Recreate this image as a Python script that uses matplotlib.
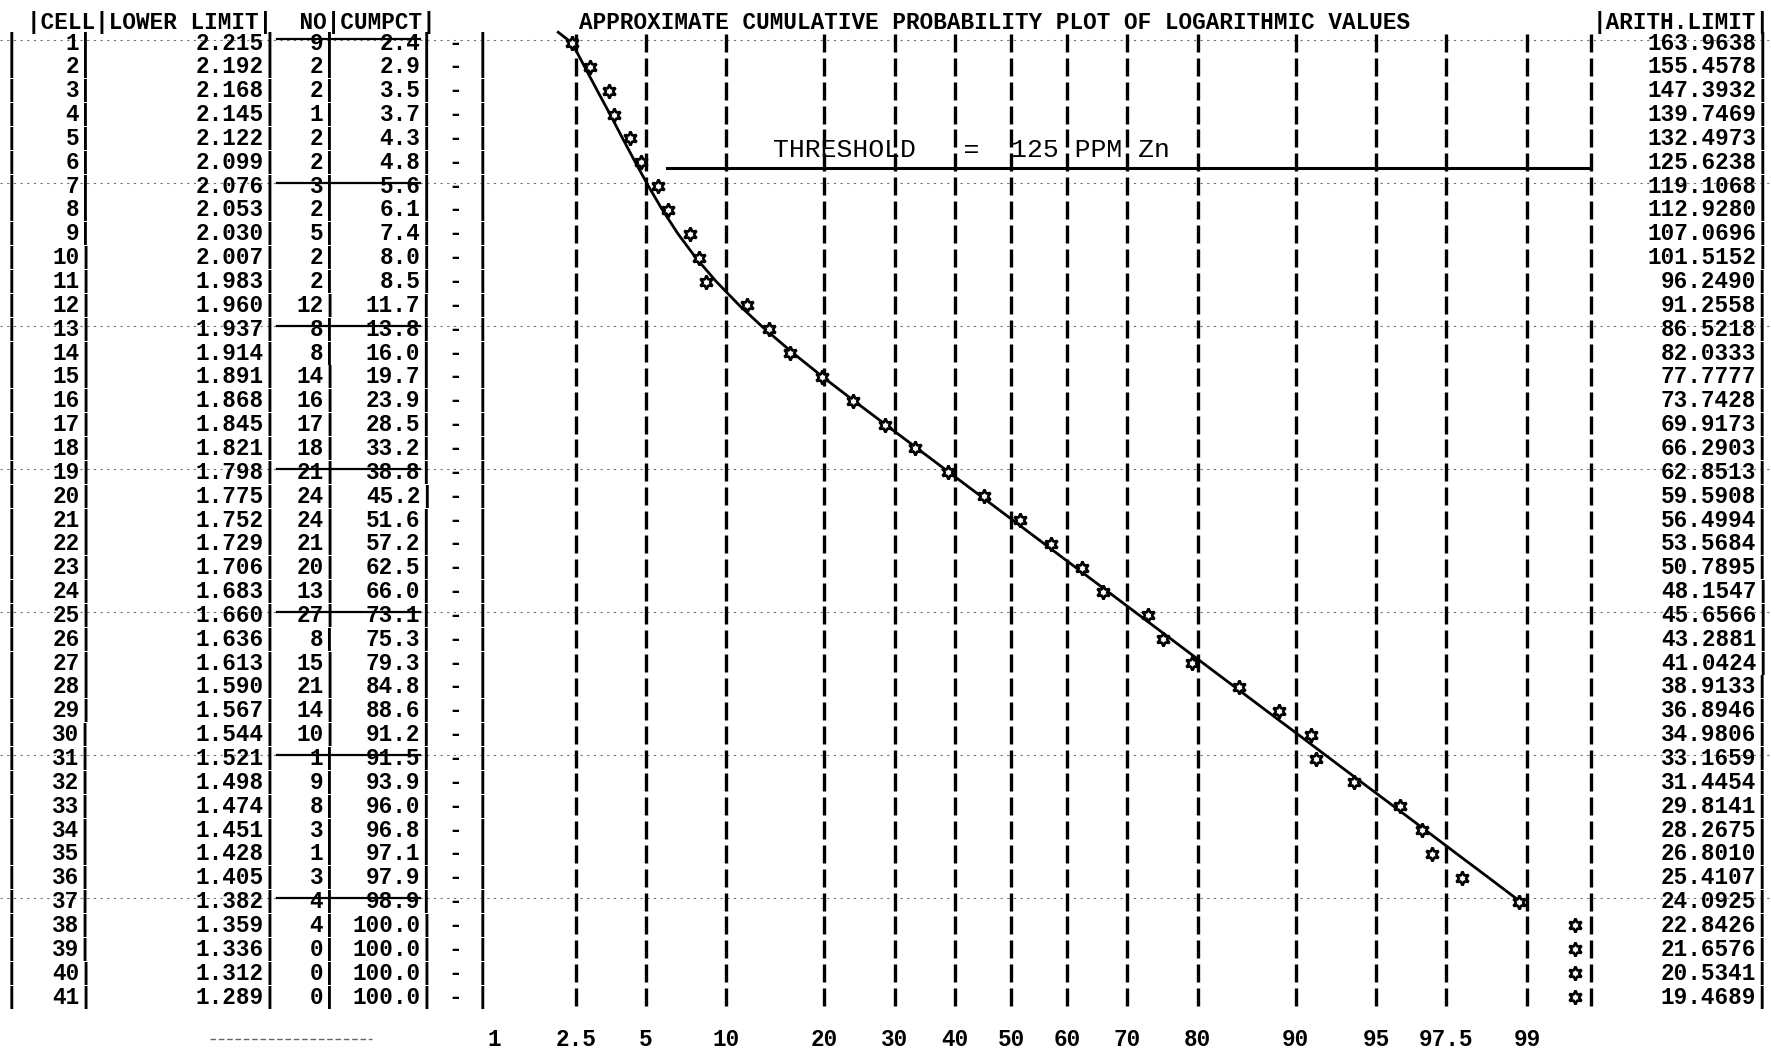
#!/usr/bin/env python3
# approximate cumulative probability plot (line-printer style), log values of Zn
from statistics import NormalDist

import numpy as np
import matplotlib.pyplot as plt
from matplotlib import transforms

W, H = 1771, 1054

# ---- table data ----
cells = list(range(1, 42))
lower_limit = [2.215, 2.192, 2.168, 2.145, 2.122, 2.099, 2.076, 2.053, 2.030, 2.007,
               1.983, 1.960, 1.937, 1.914, 1.891, 1.868, 1.845, 1.821, 1.798, 1.775,
               1.752, 1.729, 1.706, 1.683, 1.660, 1.636, 1.613, 1.590, 1.567, 1.544,
               1.521, 1.498, 1.474, 1.451, 1.428, 1.405, 1.382, 1.359, 1.336, 1.312, 1.289]
counts = [9, 2, 2, 1, 2, 2, 3, 2, 5, 2, 2, 12, 8, 8, 14, 16, 17, 18, 21, 24,
          24, 21, 20, 13, 27, 8, 15, 21, 14, 10, 1, 9, 8, 3, 1, 3, 4, 4, 0, 0, 0]
cumpct = [2.4, 2.9, 3.5, 3.7, 4.3, 4.8, 5.6, 6.1, 7.4, 8.0, 8.5, 11.7, 13.8, 16.0,
          19.7, 23.9, 28.5, 33.2, 38.8, 45.2, 51.6, 57.2, 62.5, 66.0, 73.1, 75.3,
          79.3, 84.8, 88.6, 91.2, 91.5, 93.9, 96.0, 96.8, 97.1, 97.9, 98.9,
          100.0, 100.0, 100.0, 100.0]
arith_limit = [163.9638, 155.4578, 147.3932, 139.7469, 132.4973, 125.6238, 119.1068,
               112.9280, 107.0696, 101.5152, 96.2490, 91.2558, 86.5218, 82.0333,
               77.7777, 73.7428, 69.9173, 66.2903, 62.8513, 59.5908, 56.4994,
               53.5684, 50.7895, 48.1547, 45.6566, 43.2881, 41.0424, 38.9133,
               36.8946, 34.9806, 33.1659, 31.4454, 29.8141, 28.2675, 26.8010,
               25.4107, 24.0925, 22.8426, 21.6576, 20.5341, 19.4689]

# probability axis
prob_ticks = [1, 2.5, 5, 10, 20, 30, 40, 50, 60, 70, 80, 90, 95, 97.5, 99]
prob_labels = ["1", "2.5", "5", "10", "20", "30", "40", "50", "60", "70",
               "80", "90", "95", "97.5", "99"]
grid_pct = [2.5, 5, 10, 20, 30, 40, 50, 60, 70, 80, 90, 95, 97.5, 99, 99.55]
LAST_COL_PCT = 99.45   # printer puts 100 % in the last column

# hand drawn curve, pct vs row
curve_row = [0.55] + list(range(1, 38))
curve_pct = [2.07, 2.40, 2.74, 3.12, 3.55, 4.01, 4.53, 5.12, 5.82, 6.68, 7.78, 9.21,
             11.05, 13.39, 16.31, 19.82, 23.95, 28.60, 33.65, 39.01, 44.59, 50.28,
             55.96, 61.52, 66.86, 71.87, 76.49, 80.65, 84.33, 87.51, 90.22, 92.46,
             94.29, 95.76, 96.90, 97.77, 98.43, 98.91]

# threshold annotation
THRESH_ROW = 6.25
THRESH_FROM_PCT = 6.07
THRESH_TEXT = "THRESHOLD   =  125 PPM Zn"
rule_rows = [1, 7, 13, 19, 25, 31, 37]

nd = NormalDist()
def probit(p):
    return np.array([nd.inv_cdf(v / 100.0) for v in np.atleast_1d(p)])

# page geometry: px = X50 + SLOPE*z ; py = Y1 + (row-1)*ROWH
X50, SLOPE = 1011, 222
Y1, ROWH = 43, 23.85

fig = plt.figure(figsize=(W / 100, H / 100), dpi=100)
ax = fig.add_axes([0, 0, 1, 1])
ax.set_xlim((0 - X50) / SLOPE, (W - X50) / SLOPE)
ax.set_ylim(1 + (H - Y1) / ROWH, 1 - Y1 / ROWH)
ax.axis("off")
tr = transforms.blended_transform_factory(fig.transFigure, ax.transData)

MONO = "Liberation Mono"
fs = 16.3
tkw = dict(family=MONO, fontsize=fs, fontweight="bold", color="black", va="center")
rows = np.array(cells)

# faint printer rules every 6 lines
for r in rule_rows:
    ax.plot([0, 1], [r - 0.13, r - 0.13], transform=tr, color="0.45", lw=0.8,
            ls=(0, (2, 4)), zorder=1)
    ax.plot([277 / W, 420 / W], [r - 0.15, r - 0.15], transform=tr, color="black",
            lw=1.6, zorder=1)

# header + title
HEAD_ROW = 0.12
ax.text(436 / W, HEAD_ROW, "|CELL|LOWER LIMIT|  NO|CUMPCT|", transform=tr, ha="right", **tkw)
ax.text(579 / W, HEAD_ROW,
        "APPROXIMATE CUMULATIVE PROBABILITY PLOT OF LOGARITHMIC VALUES",
        transform=tr, ha="left", **tkw)
ax.text(1770 / W, HEAD_ROW, "|ARITH.LIMIT|", transform=tr, ha="right", **tkw)

# table rows
for i, r in enumerate(rows):
    ax.text(11 / W, r, "|", transform=tr, ha="center", **tkw)
    ax.text(93 / W, r, f"{cells[i]}|", transform=tr, ha="right", **tkw)
    ax.text(277 / W, r, f"{lower_limit[i]:.3f}|", transform=tr, ha="right", **tkw)
    ax.text(337 / W, r, f"{counts[i]}|", transform=tr, ha="right", **tkw)
    ax.text(434 / W, r, f"{cumpct[i]:.1f}|", transform=tr, ha="right", **tkw)
    ax.text(455 / W, r, "-", transform=tr, ha="center", **tkw)
    ax.text(482 / W, r, "|", transform=tr, ha="center", **tkw)
    ax.text(1770 / W, r, f"{arith_limit[i]:.4f}|", transform=tr, ha="right", **tkw)

# vertical grid made of printed pipes
for gz in probit(grid_pct):
    ax.plot(np.full(len(rows), gz), rows, ls="none", marker="|", ms=12.5, mew=2.4,
            color="black", zorder=2)

# threshold line and note
ax.plot([probit(THRESH_FROM_PCT)[0], probit(grid_pct[-1])[0]], [THRESH_ROW, THRESH_ROW],
        color="black", lw=2.2, zorder=3)
ax.text(probit(14.2)[0], 5.78, THRESH_TEXT, family=MONO, fontsize=19,
        color="black", ha="left", va="baseline", zorder=4)

# fitted curve and data points
ax.plot(probit(curve_pct), curve_row, color="black", lw=2.0, zorder=4)
pts = np.clip(cumpct, None, LAST_COL_PCT)
ax.plot(probit(pts), rows, ls="none", marker=(6, 1, 0), ms=10, mfc="white",
        mec="black", mew=1.9, zorder=5)

# probability labels along the bottom
LAB_ROW = 42.8
for p, lab in zip(prob_ticks, prob_labels):
    ax.text(probit(p)[0], LAB_ROW, lab, ha="center", **tkw)
ax.plot([210 / W, 372 / W], [LAB_ROW - 0.05, LAB_ROW - 0.05], transform=tr,
        color="0.4", lw=1.0, ls=(0, (4, 2)))

fig.savefig("out.png", dpi=100, facecolor="white")
